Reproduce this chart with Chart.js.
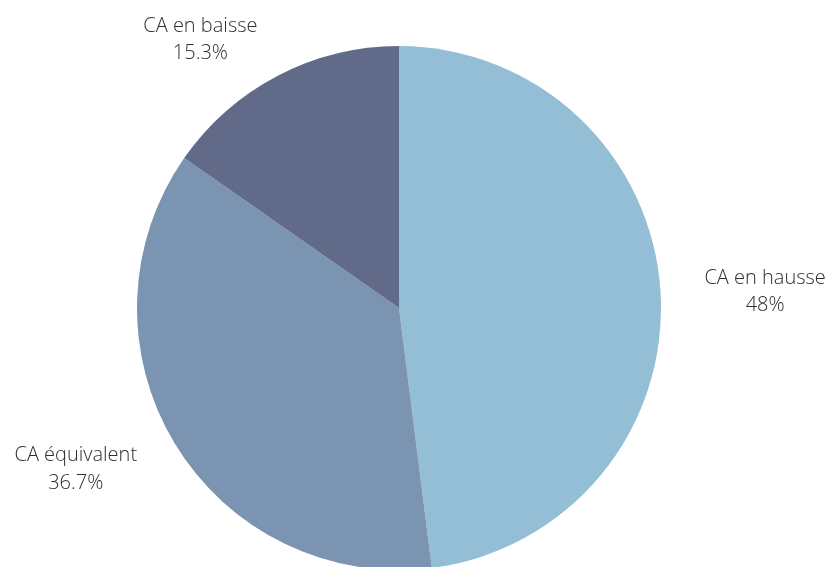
<!DOCTYPE html>
<html><head><meta charset="utf-8">
<script src="https://cdn.jsdelivr.net/npm/chart.js@4/dist/chart.umd.min.js"></script>
<style>html,body{margin:0;padding:0;background:#fff;overflow:hidden}#wrap{width:832px;height:567px}</style>
</head><body><div id="wrap"><canvas id="c" width="832" height="567"></canvas></div>
<script>
const categories = ["CA en hausse", "CA équivalent", "CA en baisse"];
const values = [48, 36.7, 15.3];
const valueLabels = ["48%", "36.7%", "15.3%"];
const colors = ["#93BED5", "#7A94B1", "#626A8A"];

const outsideLabels = {
  id: 'outsideLabels',
  afterDatasetsDraw(chart) {
    const ctx = chart.ctx;
    const meta = chart.getDatasetMeta(0);
    ctx.save();
    ctx.font = '300 20px "Open Sans"';
    ctx.fillStyle = '#2e2e2e';
    ctx.textBaseline = 'middle';
    ctx.textAlign = 'center';
    const lh = 27.5;
    meta.data.forEach((arc, i) => {
      const p = arc.getProps(['x','y','startAngle','endAngle','outerRadius'], true);
      const mid = (p.startAngle + p.endAngle) / 2;
      const r = p.outerRadius + 44;
      const ax = p.x + Math.cos(mid) * r;
      const ay = p.y + Math.sin(mid) * r + 3;
      const lines = [categories[i], valueLabels[i]];
      const w = Math.max(...lines.map(t => ctx.measureText(t).width));
      const cx = Math.cos(mid) >= 0 ? ax + w / 2 : ax - w / 2;
      lines.forEach((t, k) => {
        ctx.fillText(t, cx, ay + (k - 0.5) * lh);
      });
    });
    ctx.restore();
  }
};

new Chart(document.getElementById('c'), {
  type: 'pie',
  data: {
    labels: categories,
    datasets: [{ data: values, backgroundColor: colors, borderWidth: 0, radius: 262 }]
  },
  options: {
    responsive: false,
    animation: false,
    layout: { padding: { left: 137, right: 171, top: 49, bottom: 0 } },
    plugins: { legend: { display: false }, tooltip: { enabled: false } }
  },
  plugins: [outsideLabels]
});
</script></body></html>
